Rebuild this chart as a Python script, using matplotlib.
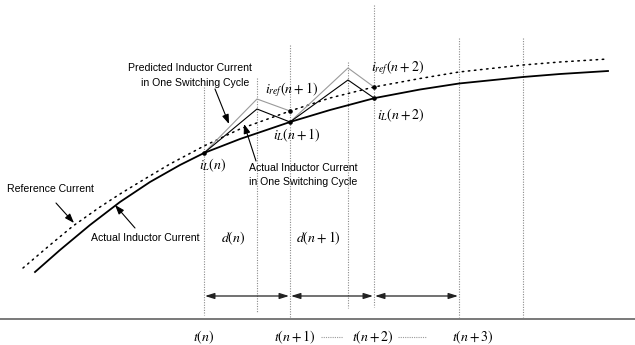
import matplotlib
matplotlib.use("Agg")
import matplotlib.pyplot as plt

plt.rcParams['font.family'] = ['Liberation Sans', 'DejaVu Sans']
plt.rcParams['mathtext.fontset'] = 'stix'

# ---- data (diagram units = pixels, y downward) ----
actual_x = [35, 60, 90, 120, 150, 180, 204, 240, 290, 330, 375, 420, 459, 523, 560, 608]
actual_y = [272, 250, 225, 202, 182, 165, 153, 139, 122, 110, 98, 89.5, 83.5, 77, 74, 71]

ref_x = [23, 50, 73, 100, 120, 143, 170, 204, 240, 290, 330, 374, 420, 459, 523, 560, 608]
ref_y = [268, 245, 226, 207, 194, 180, 164, 146, 129, 111, 98, 87, 78.5, 72, 65, 62, 59]

actual_zig_x = [204, 257, 290, 348, 374]
actual_zig_y = [153, 109, 122, 80, 98]

pred_zig1_x = [204, 257, 290]
pred_zig1_y = [153, 99, 111]
pred_zig2_x = [290, 348, 374]
pred_zig2_y = [122, 68, 87]

point_x = [204, 290, 290, 374, 374]
point_y = [153, 111, 122, 87, 98]

grid_x = [204, 257, 290, 348, 374, 459, 523]
grid_top = [87, 78, 45, 62, 5, 38, 38]
grid_bot = [315, 313, 318, 308, 307, 317, 317]

interval_edges = [204, 290, 374, 459]
tick_labels = ['$t(n)$', '$t(n+1)$', '$t(n+2)$', '$t(n+3)$']
tick_label_x = [204, 295, 373, 473]

fig = plt.figure(figsize=(6.35, 3.45), dpi=100)
ax = fig.add_axes([0, 0, 1, 1])
ax.set_xlim(0, 635)
ax.set_ylim(345, 0)
ax.axis('off')

# vertical dotted grid lines
for x, t, b in zip(grid_x, grid_top, grid_bot):
    ax.plot([x, x], [t, b], color='#8a8a8a', lw=0.8, ls=(0, (1, 1.3)), zorder=1)

# baseline
ax.plot([0, 635], [319, 319], color='#555555', lw=1.1, zorder=2)

# curves
ax.plot(ref_x, ref_y, color='black', lw=1.1, ls=(0, (1, 3)), dash_capstyle='round', zorder=3)
ax.plot(actual_x, actual_y, color='black', lw=1.3, zorder=4)

# zigzags
ax.plot(pred_zig1_x, pred_zig1_y, color='#9a9a9a', lw=0.8, zorder=3)
ax.plot(pred_zig2_x, pred_zig2_y, color='#9a9a9a', lw=0.8, zorder=3)
ax.plot(actual_zig_x, actual_zig_y, color='black', lw=0.8, zorder=4)

ax.plot(point_x, point_y, 'o', color='black', ms=2.3, zorder=5)

# interval arrows
for a, b in zip(interval_edges[:-1], interval_edges[1:]):
    ax.annotate('', xy=(b - 1, 296), xytext=(a + 1, 296),
                arrowprops=dict(arrowstyle='<|-|>,head_length=0.7,head_width=0.22',
                                color='#222222', lw=0.9, shrinkA=0, shrinkB=0,
                                mutation_scale=8), zorder=3)

# bottom tick labels
for x, s in zip(tick_label_x, tick_labels):
    ax.text(x, 337, s, fontsize=10, ha='center', va='center')
ax.plot([321, 343], [337, 337], color='#9a9a9a', lw=0.8, ls=(0, (1, 1)))
ax.plot([398, 426], [337, 337], color='#9a9a9a', lw=0.8, ls=(0, (1, 1)))

# math labels
ax.text(213, 165, '$i_L(n)$', fontsize=10, ha='center', va='center')
ax.text(292, 90, '$i_{ref}(n+1)$', fontsize=10, ha='center', va='center')
ax.text(297, 135, '$i_L(n+1)$', fontsize=10, ha='center', va='center')
ax.text(398, 68, '$i_{ref}(n+2)$', fontsize=10, ha='center', va='center')
ax.text(401, 115, '$i_L(n+2)$', fontsize=10, ha='center', va='center')
ax.text(233, 238, '$d(n)$', fontsize=10, ha='center', va='center')
ax.text(318, 238, '$d(n+1)$', fontsize=10, ha='center', va='center')

# text labels
fs = 7.6
ax.text(190, 68, 'Predicted Inductor Current', fontsize=fs, ha='center', va='center')
ax.text(195, 83, 'in One Switching Cycle', fontsize=fs, ha='center', va='center')
ax.text(303, 168, 'Actual Inductor Current', fontsize=fs, ha='center', va='center')
ax.text(303, 182, 'in One Switching Cycle', fontsize=fs, ha='center', va='center')
ax.text(50, 189, 'Reference Current', fontsize=fs, ha='center', va='center')
ax.text(145, 238, 'Actual Inductor Current', fontsize=fs, ha='center', va='center')

ap = dict(arrowstyle='-|>,head_length=0.7,head_width=0.25', color='black', lw=0.8,
          shrinkA=0, shrinkB=0, mutation_scale=8)
ax.annotate('', xy=(229, 124), xytext=(215, 89), arrowprops=ap)
ax.annotate('', xy=(244, 124), xytext=(256, 161), arrowprops=ap)
ax.annotate('', xy=(74, 223), xytext=(56, 203), arrowprops=ap)
ax.annotate('', xy=(115, 205), xytext=(135, 228), arrowprops=ap)

fig.savefig('out.png', dpi=100)
